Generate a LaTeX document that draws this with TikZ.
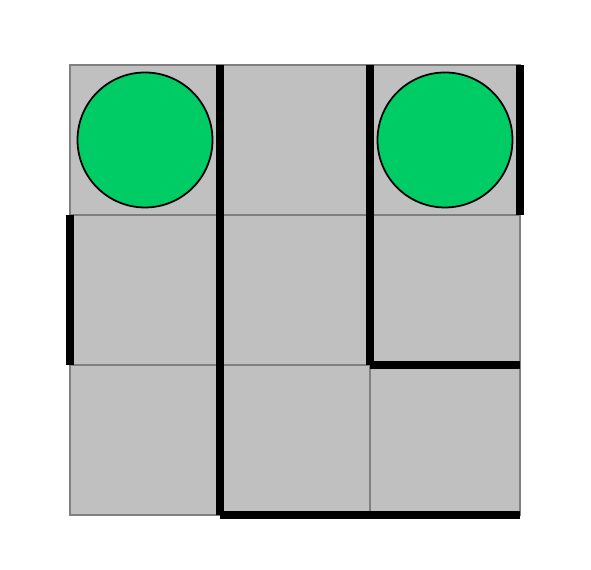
\documentclass[tikz,border=0pt]{standalone}
\usepackage{xcolor}
\usepackage{tikz}
\usetikzlibrary{positioning}

\definecolor{cellgray}{HTML}{C0C0C0}
\definecolor{cellline}{HTML}{808080}
\definecolor{goalgreen}{HTML}{00CC66}

\begin{document}
\begin{tikzpicture}[
    cell/.style={rectangle, draw=cellline, fill=cellgray, line width=0.4pt,
                 minimum size=1.5cm, inner sep=0pt, outer sep=0pt},
    goal/.style={circle, draw=black, fill=goalgreen, line width=0.5pt,
                 minimum size=1.35cm, inner sep=0pt},
    wall/.style={line width=0.08cm, line cap=butt, draw=black},
]
\useasboundingbox (-0.70,-0.55) rectangle (5.21,5.15);

% Grid cells (row 0 on top)
\foreach \r in {0,1,2} {
  \foreach \c in {0,1,2} {
    \node[cell] (cell-\r-\c) at ({(\c+0.5)*1.5}, {(2.5-\r)*1.5}) {};
  }
}

% Goals
\node[goal] (goal-left) at (cell-0-0) {};
\node[goal] (goal-right) at (cell-0-2) {};

% Walls
\draw[wall] (cell-0-0.north east) -- (cell-2-0.south east);
\draw[wall] (cell-0-1.north east) -- (cell-1-1.south east);
\draw[wall] (cell-0-2.north east) -- (cell-0-2.south east);
\draw[wall] (cell-1-0.north west) -- (cell-1-0.south west);
\draw[wall] (cell-1-2.south west) -- (cell-1-2.south east);
\draw[wall] (cell-2-1.south west) -- (cell-2-2.south east);
\end{tikzpicture}
\end{document}
